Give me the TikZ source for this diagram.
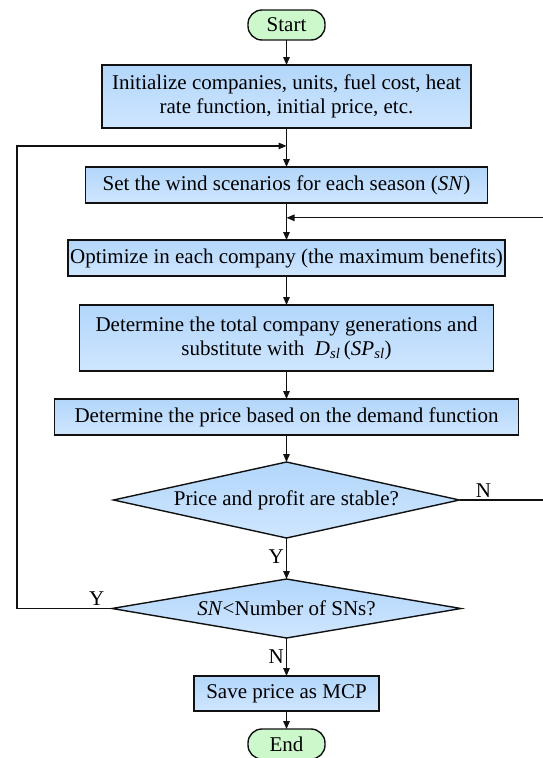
\documentclass[tikz,border=0pt]{standalone}
\usepackage{fontspec}
\setmainfont{Liberation Serif}
\usepackage{xcolor}
\usepackage{tikz}
\usetikzlibrary{arrows.meta,positioning,shapes.geometric,calc}
\definecolor{cline}{HTML}{111111}
\definecolor{cboxtop}{HTML}{B2D6FA}
\definecolor{cboxbot}{HTML}{CFE6FF}
\definecolor{cterm}{HTML}{CCF8CC}
\tikzset{
  base/.style={draw=cline, line width=1.4pt, align=center, inner sep=2pt, outer sep=0pt,
    font=\fontsize{21pt}{24pt}\selectfont},
  proc/.style={base, rectangle, top color=cboxtop, bottom color=cboxbot},
  dec/.style={base, diamond, aspect=4.5, inner sep=0pt, top color=cboxtop, bottom color=cboxbot},
  term/.style={base, rectangle, rounded corners=14pt, fill=cterm,
    minimum width=77pt, minimum height=30pt},
  arr/.style={-{Triangle[length=8pt, width=6.5pt]}, line width=1.3pt, draw=cline},
  lbl/.style={font=\fontsize{21pt}{24pt}\selectfont, inner sep=2pt},
}

\begin{document}
\begin{tikzpicture}[x=1pt, y=1pt]
  \useasboundingbox (0,0) rectangle (542,-758);
  \node[term] (start) at (286.5,-25) {Start};
  \node[proc, below=25pt of start, minimum width=369pt, minimum height=63pt] (init)
    {Initialize companies, units, fuel cost, heat\\rate function, initial price, etc.};
  \node[proc, below=39pt of init, minimum width=402pt, minimum height=36pt] (set)
    {Set the wind scenarios for each season (\textit{SN})};
  \node[proc, below=37pt of set, minimum width=436pt, minimum height=36pt] (opt)
    {Optimize in each company (the maximum benefits)};
  \node[proc, below=29pt of opt, minimum width=414pt, minimum height=66pt] (det)
    {Determine the total company generations and\\substitute with \ \textit{D}\textsubscript{\textit{sl}}\,(\textit{SP}\textsubscript{\textit{sl}})};
  \node[proc, below=28pt of det, minimum width=464pt, minimum height=36pt] (price)
    {Determine the price based on the demand function};
  \node[dec, below=27pt of price, minimum width=346pt, minimum height=76pt] (stable)
    {Price and profit are stable?};
  \node[dec, below=41pt of stable, minimum width=349pt, minimum height=59pt] (count)
    {\textit{SN}<Number of SNs?};
  \node[proc, below=38pt of count, minimum width=185pt, minimum height=35pt] (save)
    {Save price as MCP};
  \node[term, below=18pt of save] (end) {End};

  % loop joins
  \coordinate (jleft) at ($(init.south)!0.46!(set.north)$);
  \coordinate (jright) at ($(set.south)!0.4!(opt.north)$);

  \draw[arr] (start)--(init); \draw[arr] (init)--(set);
  \draw[arr] (set)--(opt); \draw[arr] (opt)--(det);
  \draw[arr] (det)--(price); \draw[arr] (price)--(stable);
  \draw[arr] (stable)-- node[lbl, left, pos=0.45]{Y} (count);
  \draw[arr] (count)-- node[lbl, left, pos=0.5]{N} (save);
  \draw[arr] (save)--(end);
  \draw[arr] (stable.east)-- node[lbl, above, pos=0.26]{N} ++(92,0) |- (jright);
  \draw[arr] (count.west)-- node[lbl, above, pos=0.16]{Y} ++(-95,0) |- (jleft);
\end{tikzpicture}
\end{document}
